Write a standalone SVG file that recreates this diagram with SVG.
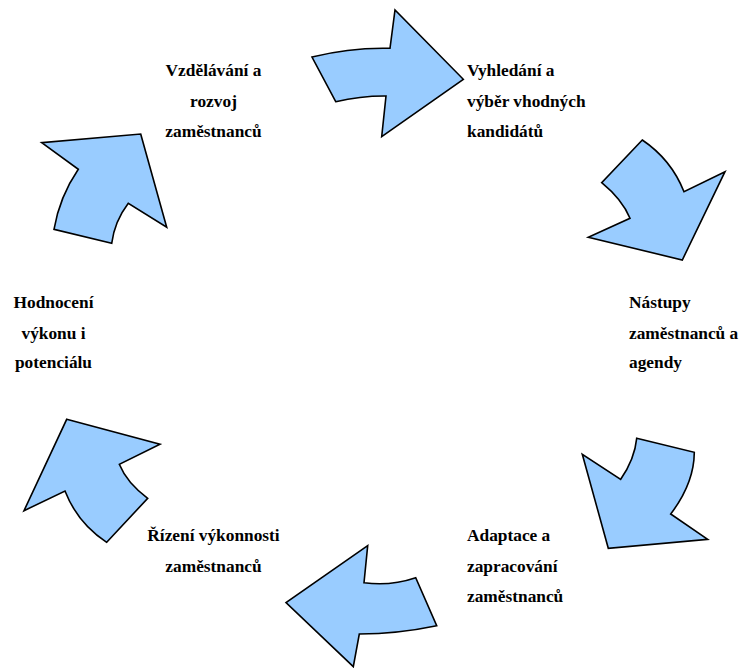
<svg xmlns="http://www.w3.org/2000/svg" width="742" height="668" viewBox="0 0 742 668">
<style>
.arr{fill:#99CCFF;stroke:#000;stroke-width:1.6;stroke-linejoin:miter}
text{font-family:"Liberation Serif","Times New Roman",serif;font-weight:bold;font-size:17.33px;fill:#000}
.c{text-anchor:middle}
</style>
<rect width="742" height="668" fill="#fff"/>
<g id="connectors">
<path id="arrow1" class="arr" d="M312,57 Q351,47.3 390,48.3 L395,10 L463.3,79.3 L381.7,136.7 L386,96 Q360.7,95.8 335.7,101.7 Z"/>
<path id="arrow2" class="arr" d="M642.3,140 Q671.2,159.5 684,191.7 L725,171.7 L682.3,260 L588.3,237.3 L630,218.3 Q622.2,199.5 601.7,182.7 Z"/>
<path id="arrow3" class="arr" d="M636.7,438.3 L694.3,452.3 Q694.1,483.4 670.7,514 L707.7,539.3 L608.3,548.3 L582.3,454.3 L620.7,479.3 Q634.7,458.8 636.7,438.3 Z"/>
<path id="arrow4" class="arr" d="M367.7,545.7 L364,582.7 Q390.2,586.4 415.7,577.7 L436.7,625.7 Q398,633.8 359.3,634 L353.3,666.7 L286,602.7 Z"/>
<path id="arrow5" class="arr" d="M66.7,419.3 L160,444.3 L119.3,464.3 Q127,483 147.7,498.3 L106.7,542.3 Q77.6,523.3 65,491 L24,510.7 Z"/>
<path id="arrow6" class="arr" d="M140.7,134 L166.7,227.3 L128.3,203.3 Q114.6,221.3 111.7,243.3 L54,229.3 Q59.6,196.8 78.3,169.3 L41.7,142.7 Z"/>
</g>
<g id="node-vzdelavani">
<text class="c" x="213.5" y="76">Vzdělávání a</text>
<text class="c" x="213.5" y="106.5">rozvoj</text>
<text class="c" x="213.5" y="137">zaměstnanců</text>
</g>
<g id="node-vyhledani">
<text x="467" y="76">Vyhledání a</text>
<text x="467" y="106.5">výběr vhodných</text>
<text x="467" y="137">kandidátů</text>
</g>
<g id="node-nastupy">
<text x="629" y="308">Nástupy</text>
<text x="629" y="338.5">zaměstnanců a</text>
<text x="629" y="368">agendy</text>
</g>
<g id="node-adaptace">
<text x="467" y="541">Adaptace a</text>
<text x="467" y="571.5">zapracování</text>
<text x="467" y="602">zaměstnanců</text>
</g>
<g id="node-rizeni">
<text class="c" x="213.5" y="541">Řízení výkonnosti</text>
<text class="c" x="213.5" y="571.5">zaměstnanců</text>
</g>
<g id="node-hodnoceni">
<text class="c" x="53.5" y="308">Hodnocení</text>
<text class="c" x="53.5" y="338.5">výkonu i</text>
<text class="c" x="53.5" y="368">potenciálu</text>
</g>
</svg>
